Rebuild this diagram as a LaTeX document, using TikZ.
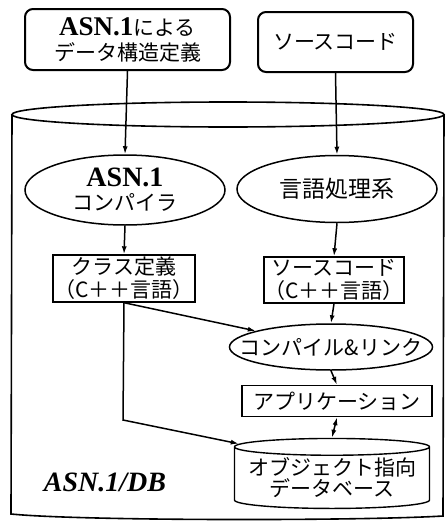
\documentclass[tikz,border=0pt]{standalone}
\usepackage{fontspec}
\setmainfont{Noto Sans CJK JP}
\newfontfamily\tms{Liberation Serif}
\usetikzlibrary{shapes.geometric,arrows.meta,positioning,calc}

\begin{document}
\begin{tikzpicture}[
    x=1pt, y=-1pt, >={Latex[length=8pt,width=5pt]},
    line width=1.5pt, font=\fontsize{21}{23}\selectfont,
    flow/.style={->,line width=1.5pt},
    topbox/.style={rectangle,draw,line width=2pt,rounded corners=8pt,
                   align=center,inner sep=0pt},
    proc/.style={ellipse,draw,line width=1.5pt,align=center,
                 inner xsep=-30pt,inner ysep=-4pt},
    filebox/.style={rectangle,draw,line width=1.4pt,align=center,inner sep=0pt}]

  \useasboundingbox (0,0) rectangle (446,525);

  % ---------------- the ASN.1/DB container
  \draw[line width=1.6pt] (228,114.5) ellipse [x radius=216, y radius=12.5];
  \draw[line width=1.6pt] (12,114.5) -- (11,514)
        .. controls (80,521) and (360,521) .. (443,516) -- (444,114.5);
  \node[font=\tms\bfseries\itshape\fontsize{28}{28}\selectfont] (dbname) at (105,482) {ASN.1/DB};

  % ---------------- inputs
  \node[topbox,minimum width=205pt,minimum height=61pt] (spec) at (127.5,39.5)
       {{\tms\bfseries\fontsize{27}{22}\selectfont ASN.1}による\\[2pt]データ構造定義};
  \node[topbox,minimum width=155pt,minimum height=60pt] (src) at (335.5,42) {ソースコード};

  % ---------------- processors
  \node[proc,minimum width=200pt,minimum height=70pt] (comp) at (125,190)
       {{\tms\bfseries\fontsize{28}{28}\selectfont ASN.1}\\[1pt]コンパイラ};
  \node[proc,minimum width=200pt,minimum height=67pt,font=\fontsize{23}{25}\selectfont]
       (lang) at (337,189) {言語処理系};

  \node[filebox,minimum width=142pt,minimum height=47pt] (klass) at (124,278.5)
       {クラス定義\\（C＋＋言語）};
  \node[filebox,minimum width=140pt,minimum height=46pt] (csrc) at (334,280)
       {ソースコード\\（C＋＋言語）};

  \node[proc,minimum width=203pt,minimum height=46pt] (link) at (331,347) {コンパイル\&リンク};
  \node[filebox,minimum width=190pt,minimum height=31pt] (app) at (337,401) {アプリケーション};

  \node[cylinder,shape border rotate=90,draw,line width=1.4pt,aspect=0.1,
        minimum width=195pt,minimum height=70pt,align=center,inner sep=0pt,
        font=\fontsize{21}{21}\selectfont] (db) at (332,478)
       {オブジェクト指向\\データベース};

  % ---------------- flows
  \coordinate (bend) at (123,420);
  \draw[flow] (spec.south) -- (comp.north);
  \draw[flow] (src.south) -- (lang.north);
  \draw[flow] (comp.south) -- (klass.north);
  \draw[flow] (lang.south) -- (csrc.north);
  \draw[flow] (klass.south) -- (link);
  \draw[flow] (csrc.south) -- (link.north);
  \draw[flow] (klass.south) -- (bend) -- ($(db.north -| db.west)+(5,6)$);
  \draw[flow] (link.south) -- (app.north);
  \draw[flow,<->] (app.south) -- (db.north);
\end{tikzpicture}
\end{document}
